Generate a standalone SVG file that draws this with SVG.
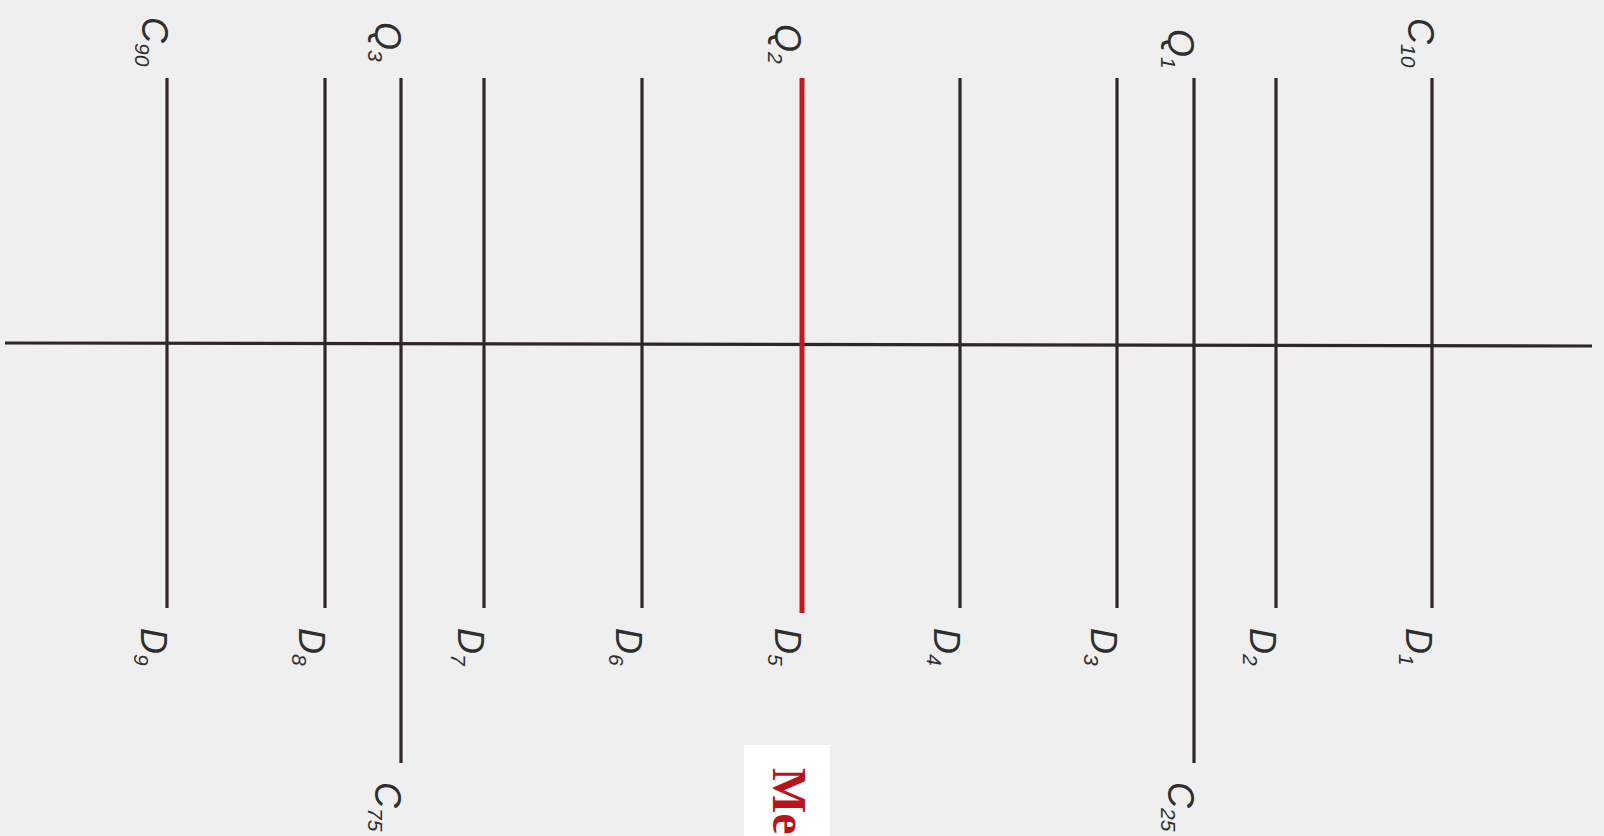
<svg xmlns="http://www.w3.org/2000/svg" width="1604" height="836" viewBox="0 0 1604 836">
<style>
.ln{stroke:#2f2626;stroke-width:3.2;fill:none;stroke-linecap:butt}
.red{stroke:#c01a20;stroke-width:5;fill:none}
.lb{font-family:"Liberation Sans",Arial,sans-serif;font-style:italic;font-size:36px;fill:#2e2e2e}
.sb{font-size:21px}
.me{font-family:"Liberation Serif","Times New Roman",serif;font-weight:bold;font-size:48px;fill:#b8141c}
</style>
<rect x="0" y="0" width="1604" height="836" fill="#efefef"/>
<g id="connectors">
<line id="axis" class="ln" x1="5" y1="343" x2="1592" y2="346" stroke-width="3.6"/>
</g>
<g id="C90">
<line class="ln" x1="167" y1="78" x2="167" y2="608"/>
<text class="lb" transform="translate(142,17) rotate(90)">C<tspan class="sb" dy="7">90</tspan></text>
<text class="lb" transform="translate(141,628) rotate(90)">D<tspan class="sb" dy="7">9</tspan></text>
</g>
<g id="D8">
<line class="ln" x1="325" y1="78" x2="325" y2="608"/>
<text class="lb" transform="translate(299,628) rotate(90)">D<tspan class="sb" dy="7">8</tspan></text>
</g>
<g id="Q3">
<line class="ln" x1="401" y1="78" x2="401" y2="763"/>
<text class="lb" transform="translate(375,22) rotate(90)">Q<tspan class="sb" dy="7">3</tspan></text>
<text class="lb" transform="translate(375,782) rotate(90)">C<tspan class="sb" dy="7">75</tspan></text>
</g>
<g id="D7">
<line class="ln" x1="484" y1="78" x2="484" y2="608"/>
<text class="lb" transform="translate(458,628) rotate(90)">D<tspan class="sb" dy="7">7</tspan></text>
</g>
<g id="D6">
<line class="ln" x1="642" y1="78" x2="642" y2="608"/>
<text class="lb" transform="translate(616,628) rotate(90)">D<tspan class="sb" dy="7">6</tspan></text>
</g>
<g id="Q2">
<line class="red" x1="802" y1="78" x2="802" y2="613"/>
<text class="lb" transform="translate(775,24) rotate(90)">Q<tspan class="sb" dy="7">2</tspan></text>
<text class="lb" transform="translate(775,628) rotate(90)">D<tspan class="sb" dy="7">5</tspan></text>
</g>
<g id="D4">
<line class="ln" x1="960" y1="78" x2="960" y2="608"/>
<text class="lb" transform="translate(934,628) rotate(90)">D<tspan class="sb" dy="7">4</tspan></text>
</g>
<g id="D3">
<line class="ln" x1="1117" y1="78" x2="1117" y2="608"/>
<text class="lb" transform="translate(1091,628) rotate(90)">D<tspan class="sb" dy="7">3</tspan></text>
</g>
<g id="Q1">
<line class="ln" x1="1194" y1="78" x2="1194" y2="763"/>
<text class="lb" transform="translate(1168,29) rotate(90)">Q<tspan class="sb" dy="7">1</tspan></text>
<text class="lb" transform="translate(1168,782) rotate(90)">C<tspan class="sb" dy="7">25</tspan></text>
</g>
<g id="D2">
<line class="ln" x1="1276" y1="78" x2="1276" y2="608"/>
<text class="lb" transform="translate(1250,628) rotate(90)">D<tspan class="sb" dy="7">2</tspan></text>
</g>
<g id="C10">
<line class="ln" x1="1432" y1="78" x2="1432" y2="608"/>
<text class="lb" transform="translate(1408,18) rotate(90)">C<tspan class="sb" dy="7">10</tspan></text>
<text class="lb" transform="translate(1406,628) rotate(90)">D<tspan class="sb" dy="7">1</tspan></text>
</g>
<g id="median-label">
<rect x="744" y="745" width="86" height="91" fill="#ffffff"/>
<text class="me" transform="translate(773,768) rotate(90)">Me</text>
</g>
</svg>
